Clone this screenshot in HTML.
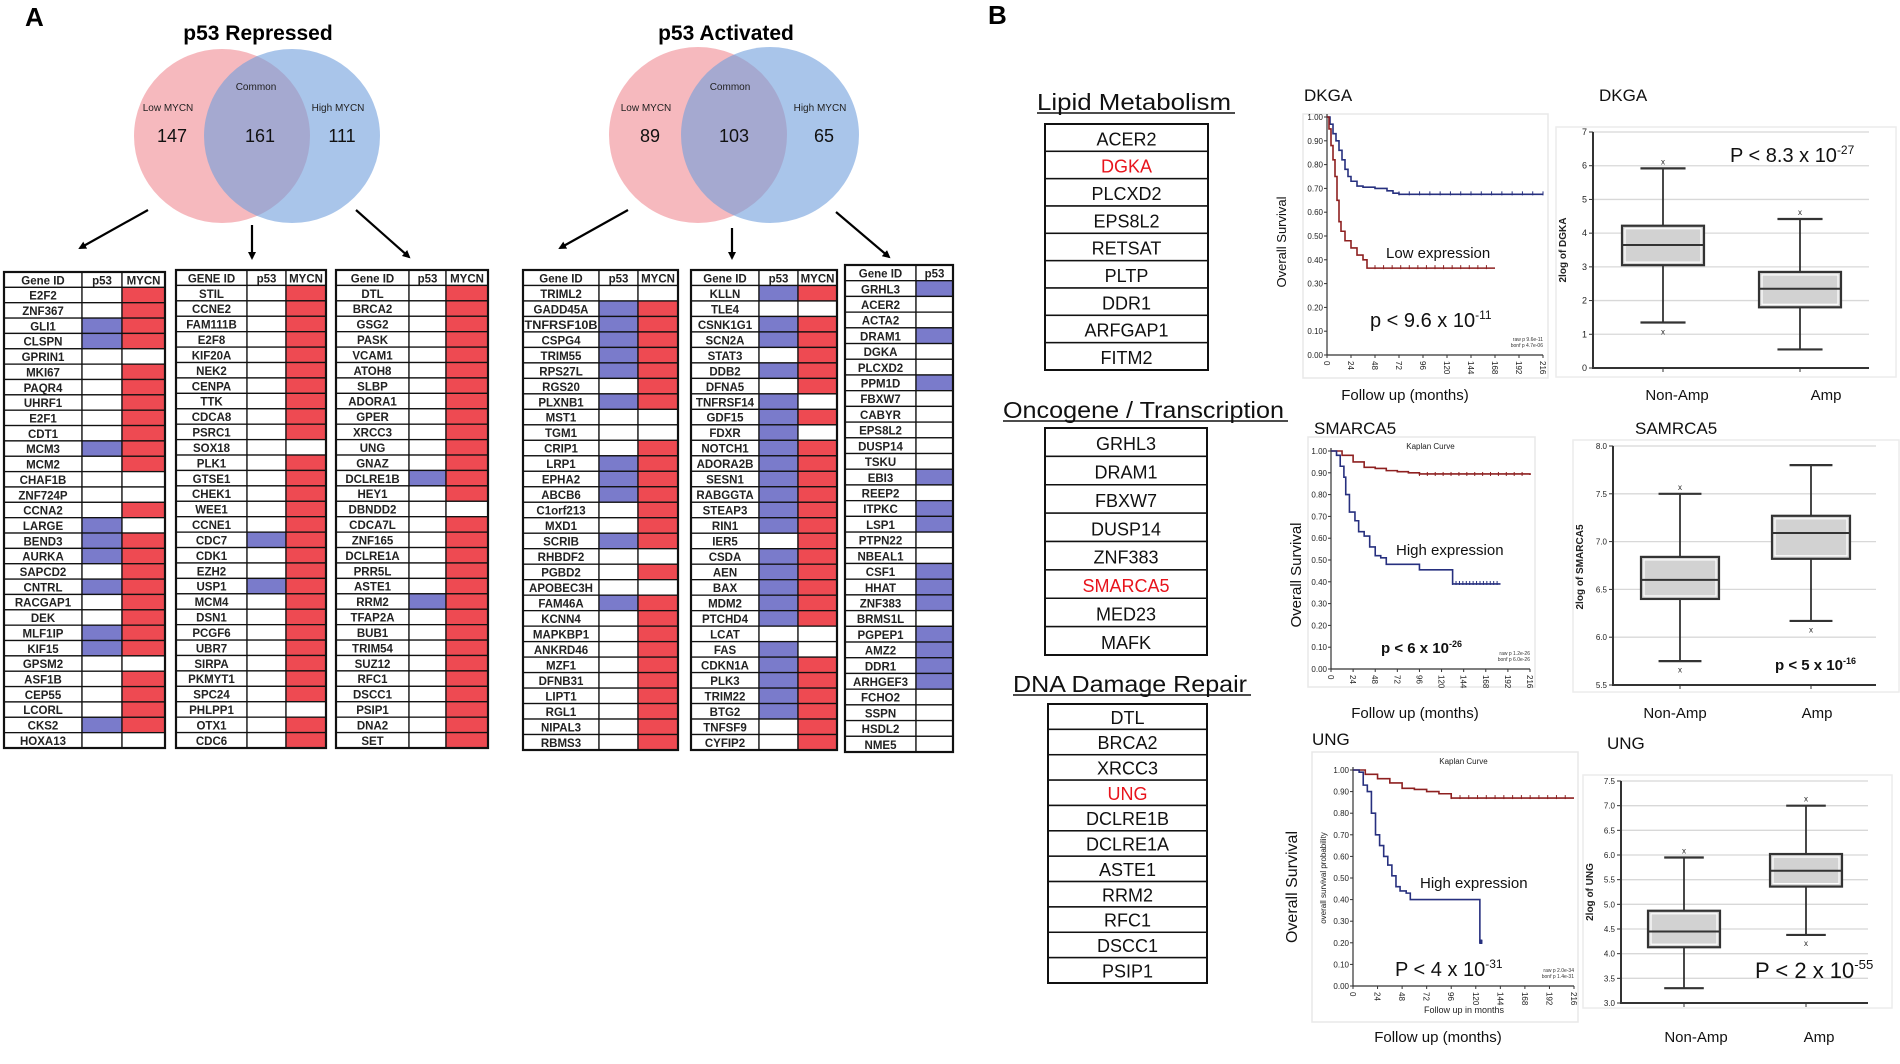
<!DOCTYPE html>
<html><head><meta charset="utf-8">
<style>
body{margin:0;background:#fff}
svg{display:block;font-family:"Liberation Sans",Arial,sans-serif}
</style></head>
<body>
<svg id="fig" width="1900" height="1064" viewBox="0 0 1900 1064"></svg>
<script>
// ---------- DATA ----------
const t1Genes=["E2F2","ZNF367","GLI1","CLSPN","GPRIN1","MKI67","PAQR4","UHRF1","E2F1","CDT1","MCM3","MCM2","CHAF1B","ZNF724P","CCNA2","LARGE","BEND3","AURKA","SAPCD2","CNTRL","RACGAP1","DEK","MLF1IP","KIF15","GPSM2","ASF1B","CEP55","LCORL","CKS2","HOXA13"];
const t1P53=[0,0,1,1,0,0,0,0,0,0,1,0,0,0,0,1,1,1,0,1,0,0,1,1,0,0,0,0,1,0];
const t1Mycn=[1,1,1,1,0,1,1,1,1,1,1,1,0,0,1,0,1,1,1,1,1,1,1,1,0,1,1,1,1,0];
const t2Genes=["STIL","CCNE2","FAM111B","E2F8","KIF20A","NEK2","CENPA","TTK","CDCA8","PSRC1","SOX18","PLK1","GTSE1","CHEK1","WEE1","CCNE1","CDC7","CDK1","EZH2","USP1","MCM4","DSN1","PCGF6","UBR7","SIRPA","PKMYT1","SPC24","PHLPP1","OTX1","CDC6"];
const t2P53=[0,0,0,0,0,0,0,0,0,0,0,0,0,0,0,0,1,0,0,1,0,0,0,0,0,0,0,0,0,0];
const t2Mycn=[1,1,1,1,1,1,1,1,1,1,0,1,1,1,1,1,1,1,1,1,1,1,1,1,1,1,1,0,1,1];
const t3Genes=["DTL","BRCA2","GSG2","PASK","VCAM1","ATOH8","SLBP","ADORA1","GPER","XRCC3","UNG","GNAZ","DCLRE1B","HEY1","DBNDD2","CDCA7L","ZNF165","DCLRE1A","PRR5L","ASTE1","RRM2","TFAP2A","BUB1","TRIM54","SUZ12","RFC1","DSCC1","PSIP1","DNA2","SET"];
const t3P53=[0,0,0,0,0,0,0,0,0,0,0,0,1,0,0,0,0,0,0,0,1,0,0,0,0,0,0,0,0,0];
const t3Mycn=[1,1,1,1,1,1,1,1,1,1,1,1,1,1,0,1,1,1,1,1,1,1,1,1,1,1,1,1,1,1];
const t4Genes=["TRIML2","GADD45A","TNFRSF10B","CSPG4","TRIM55","RPS27L","RGS20","PLXNB1","MST1","TGM1","CRIP1","LRP1","EPHA2","ABCB6","C1orf213","MXD1","SCRIB","RHBDF2","PGBD2","APOBEC3H","FAM46A","KCNN4","MAPKBP1","ANKRD46","MZF1","DFNB31","LIPT1","RGL1","NIPAL3","RBMS3"];
const t4P53=[0,1,1,1,1,1,0,1,0,0,0,1,1,1,0,0,1,0,0,0,1,0,0,0,0,0,0,0,0,0];
const t4Mycn=[0,1,1,1,1,1,1,1,0,0,1,1,1,1,1,1,1,0,1,0,1,1,1,1,1,1,1,1,1,1];
const t5Genes=["KLLN","TLE4","CSNK1G1","SCN2A","STAT3","DDB2","DFNA5","TNFRSF14","GDF15","FDXR","NOTCH1","ADORA2B","SESN1","RABGGTA","STEAP3","RIN1","IER5","CSDA","AEN","BAX","MDM2","PTCHD4","LCAT","FAS","CDKN1A","PLK3","TRIM22","BTG2","TNFSF9","CYFIP2"];
const t5P53=[1,0,1,1,0,1,0,1,1,1,1,1,1,1,1,1,0,1,1,1,1,1,0,1,1,1,1,1,0,0];
const t5Mycn=[1,0,1,1,1,1,1,0,1,0,1,1,1,1,1,1,1,1,1,1,1,1,0,0,1,1,1,1,1,1];
const t6Genes=["GRHL3","ACER2","ACTA2","DRAM1","DGKA","PLCXD2","PPM1D","FBXW7","CABYR","EPS8L2","DUSP14","TSKU","EBI3","REEP2","ITPKC","LSP1","PTPN22","NBEAL1","CSF1","HHAT","ZNF383","BRMS1L","PGPEP1","AMZ2","DDR1","ARHGEF3","FCHO2","SSPN","HSDL2","NME5"];
const t6P53=[1,0,0,1,0,0,1,0,0,0,0,0,1,0,1,1,0,0,1,1,1,0,1,1,1,1,0,0,0,0];

const lipidGenes=["ACER2","DGKA","PLCXD2","EPS8L2","RETSAT","PLTP","DDR1","ARFGAP1","FITM2"];
const oncoGenes=["GRHL3","DRAM1","FBXW7","DUSP14","ZNF383","SMARCA5","MED23","MAFK"];
const dnaGenes=["DTL","BRCA2","XRCC3","UNG","DCLRE1B","DCLRE1A","ASTE1","RRM2","RFC1","DSCC1","PSIP1"];
const highlighted=["DGKA","SMARCA5","UNG"];

const kmYTicks=[0,0.1,0.2,0.3,0.4,0.5,0.6,0.7,0.8,0.9,1.0];
const kmXTicks=[0,24,48,72,96,120,144,168,192,216];
const km1BlueT=[0,3,6,9,12,15,18,21,24,30,36,48,60,66,72,216];
const km1BlueS=[1,0.97,0.93,0.9,0.86,0.82,0.78,0.75,0.73,0.71,0.705,0.7,0.69,0.68,0.675,0.675];
const km1RedT=[0,2,4,6,8,10,12,14,18,24,30,36,40,48,168];
const km1RedS=[1,0.95,0.88,0.82,0.75,0.65,0.56,0.52,0.48,0.45,0.42,0.4,0.365,0.365,0.365];
const km2RedT=[0,12,24,36,48,60,72,84,96,216];
const km2RedS=[1,0.98,0.95,0.925,0.92,0.91,0.905,0.9,0.895,0.89];
const km2BlueT=[0,6,10,14,16,20,26,30,36,42,48,54,60,96,132,184];
const km2BlueS=[1,0.98,0.93,0.88,0.8,0.72,0.68,0.63,0.61,0.56,0.52,0.51,0.48,0.455,0.39,0.39];
const km3RedT=[0,12,24,36,48,60,72,84,96,216];
const km3RedS=[1,0.98,0.96,0.94,0.915,0.91,0.9,0.89,0.87,0.87];
const km3BlueT=[0,6,10,14,18,22,26,30,34,38,42,46,52,56,124,126];
const km3BlueS=[1,0.99,0.93,0.9,0.8,0.7,0.65,0.6,0.56,0.51,0.46,0.44,0.43,0.4,0.2,0.2];

const boxCats=["Non-Amp","Amp"];
const box1Lo=[1.35,0.55], box1Q1=[3.05,1.8], box1Med=[3.65,2.35], box1Q3=[4.22,2.85], box1Hi=[5.92,4.42];
const box1Out=[[6.1,1.05],[4.6]];
const box1Ticks=[0,1,2,3,4,5,6,7];
const box2Lo=[5.75,6.17], box2Q1=[6.4,6.82], box2Med=[6.6,7.09], box2Q3=[6.84,7.27], box2Hi=[7.5,7.8];
const box2Out=[[7.56,5.65],[6.07]];
const box2Ticks=[5.5,6.0,6.5,7.0,7.5,8.0];
const box3Lo=[3.3,4.38], box3Q1=[4.13,5.36], box3Med=[4.45,5.68], box3Q3=[4.87,6.02], box3Hi=[5.95,7.0];
const box3Out=[[6.07],[7.12,4.2]];
const box3Ticks=[3.0,3.5,4.0,4.5,5.0,5.5,6.0,6.5,7.0,7.5];

// ---------- HELPERS ----------
const NS='http://www.w3.org/2000/svg';
const svg=document.getElementById('fig');
function mk(tag,attrs,parent){const e=document.createElementNS(NS,tag);for(const k in attrs)e.setAttribute(k,attrs[k]);(parent||svg).appendChild(e);return e;}
function txt(x,y,s,attrs,parent){const e=mk('text',Object.assign({x:x,y:y},attrs||{}),parent);e.textContent=s;return e;}
function supTxt(x,y,base,sup,size,weight,parent){
  const e=mk('text',{x:x,y:y,'font-size':size,'font-weight':weight||'normal',fill:'#111'},parent);
  const a=mk('tspan',{},e);a.textContent=base;
  const b=mk('tspan',{dy:-size*0.4,'font-size':size*0.6},e);b.textContent=sup;
  return e;
}
const RED='#ee4a52', BLUE='#7a7bcb';

// ---------- PANEL LABELS ----------
let el;
el=txt(25,26,"A",{'font-size':26,'font-weight':'bold'});


el=txt(988,24,"B",{'font-size':26,'font-weight':'bold'});



// ---------- VENN ----------
function venn(name,title,tx,cx1,cx2,cy,r,nums,labX){
  const g=mk('g',{});
  
  
  let t=txt(tx,40,title,{'font-size':21,'font-weight':'bold','text-anchor':'middle'},g);
  
  
  let c=mk('ellipse',{cx:cx1,cy:cy,rx:r,ry:r-1,fill:'#f08a92','fill-opacity':0.6},g);
  
  
  c=mk('ellipse',{cx:cx2,cy:cy,rx:r,ry:r-1,fill:'#6f9fdc','fill-opacity':0.6},g);
  
  
  const lbl=["Low MYCN","Common","High MYCN"];
  const ly=[111,90,111];
  for(let i=0;i<3;i++){
    t=txt(labX[i],ly[i],lbl[i],{'font-size':10,'text-anchor':'middle',fill:'#222'},g);
    
    
    t=txt(labX[i]+4,142,nums[i],{'font-size':18,'text-anchor':'middle',fill:'#111'},g);
    
    
  }
}
venn('venn-p53-repressed','p53 Repressed',258,222,292,136,88,["147","161","111"],[168,256,338]);
venn('venn-p53-activated','p53 Activated',726,698,770,135,89,["89","103","65"],[646,730,820]);

const defs=mk('defs',{});
const mkr=mk('marker',{id:'ah',markerWidth:8,markerHeight:8,refX:6,refY:4,orient:'auto',markerUnits:'userSpaceOnUse'},defs);
mk('path',{d:'M0,0 L8,4 L0,8 Z',fill:'#000'},mkr);
const arrows=[[148,210,80,248],[252,225,252,258],[356,210,409,257],[628,210,560,248],[732,228,732,258],[836,212,889,257]];
arrows.forEach(a=>{
  const l=mk('line',{x1:a[0],y1:a[1],x2:a[2],y2:a[3],stroke:'#000','stroke-width':2.2,'marker-end':'url(#ah)'});
  
  
});

// ---------- GENE TABLES ----------
function geneTable(name,x,cols,y0,y1,heads,genes,p53,mycn){
  const g=mk('g',{});
  
  
  const n=genes.length+1, rh=(y1-y0)/n;
  const xs=[x].concat(cols);
  const right=xs[xs.length-1];
  for(let r=0;r<n;r++){
    const y=y0+r*rh;
    for(let c=0;c<xs.length-1;c++){
      let fill='#fff';
      if(r>0&&c===1&&p53[r-1])fill=BLUE;
      if(r>0&&c===2&&mycn&&mycn[r-1])fill=RED;
      const cell=mk('rect',{x:xs[c],y:y,width:xs[c+1]-xs[c],height:rh,fill:fill,stroke:'#111','stroke-width':1.3},g);
      
      
    }
    const s=r===0?heads[0]:genes[r-1];
    const w=xs[1]-xs[0];
    const attrs={'font-size':11.5,'font-weight':'bold','text-anchor':'middle',fill:'#222'};
    if(s.length>=9)attrs.textLength=w-3,attrs.lengthAdjust='spacingAndGlyphs';
    const t=txt((xs[0]+xs[1])/2,y+rh*0.8,s,attrs,g);
    
    
    if(r===0){
      for(let c=1;c<heads.length;c++){
        const h=txt((xs[c]+xs[c+1])/2,y+rh*0.8,heads[c],{'font-size':11.5,'font-weight':'bold','text-anchor':'middle',fill:'#222'},g);
        
        
      }
    }
  }
  const b=mk('rect',{x:x,y:y0,width:right-x,height:y1-y0,fill:'none',stroke:'#111','stroke-width':2.2},g);
  
  
}
geneTable('table-low-mycn-repressed',4,[82,122,165],272,748,["Gene ID","p53","MYCN"],t1Genes,t1P53,t1Mycn);
geneTable('table-common-repressed',176,[247,286,326],270,748,["GENE ID","p53","MYCN"],t2Genes,t2P53,t2Mycn);
geneTable('table-high-mycn-repressed',336,[409,446,488],270,748,["Gene ID","p53","MYCN"],t3Genes,t3P53,t3Mycn);
geneTable('table-low-mycn-activated',523,[599,638,678],270,750,["Gene ID","p53","MYCN"],t4Genes,t4P53,t4Mycn);
geneTable('table-common-activated',691,[759,798,837],270,750,["Gene ID","p53","MYCN"],t5Genes,t5P53,t5Mycn);
geneTable('table-high-mycn-activated',845,[916,953],265,752,["Gene ID","p53"],t6Genes,t6P53,null);

// ---------- CATEGORY LISTS ----------
function catList(name,heading,hx1,hx2,hy,x0,x1,y0,y1,genes){
  const g=mk('g',{});
  
  
  const h=txt(hx1,hy+8,heading,{'font-size':23,fill:'#111',textLength:hx2-hx1-4,lengthAdjust:'spacingAndGlyphs'},g);
  
  
  const u=mk('line',{x1:hx1,x2:hx2,y1:hy+11,y2:hy+11,stroke:'#111','stroke-width':1.5},g);
  
  
  const rh=(y1-y0)/genes.length;
  genes.forEach((s,i)=>{
    const r=mk('rect',{x:x0,y:y0+i*rh,width:x1-x0,height:rh,fill:'#fff',stroke:'#111','stroke-width':1.5},g);
    
    
    const t=txt((x0+x1)/2,y0+i*rh+rh*0.78,s,{'font-size':Math.min(18,rh*0.72),'text-anchor':'middle',fill:highlighted.includes(s)?'#e8141c':'#111'},g);
    
    
  });
  const b=mk('rect',{x:x0,y:y0,width:x1-x0,height:y1-y0,fill:'none',stroke:'#111','stroke-width':2},g);
  
  
}
catList('lipid-metabolism-list','Lipid Metabolism',1037,1235,102,1045,1208,124,370,lipidGenes);
catList('oncogene-transcription-list','Oncogene / Transcription',1003,1288,410,1045,1207,428,655,oncoGenes);
catList('dna-damage-repair-list','DNA Damage Repair',1013,1251,684,1048,1207,704,983,dnaGenes);

// ---------- KM PLOTS ----------
function stepPath(T,S,xs,ys){
  let d='M'+xs(T[0])+','+ys(S[0]);
  for(let i=1;i<T.length;i++){d+=' L'+xs(T[i])+','+ys(S[i-1])+' L'+xs(T[i])+','+ys(S[i]);}
  return d;
}
function km(name,c){
  const g=mk('g',{});
  
  
  const bg=mk('rect',{x:c.px0,y:c.py0,width:c.px1-c.px0,height:c.py1-c.py0,fill:'#fff',stroke:'#e8e8e8','stroke-width':1.5},g);
  
  
  const xs=t=>c.ax+t/216*(c.xr-c.ax);
  const ys=s=>c.y0-s*(c.y0-c.y1);
  const ax=mk('path',{d:`M${c.ax},${c.y1-3} L${c.ax},${c.y0} L${c.xr},${c.y0}`,fill:'none',stroke:'#333','stroke-width':1.2},g);
  
  
  kmYTicks.forEach(v=>{
    mk('line',{x1:c.ax-3,x2:c.ax,y1:ys(v),y2:ys(v),stroke:'#333'},g);
    const t=txt(c.ax-4,ys(v)+3,v.toFixed(2),{'font-size':8,'text-anchor':'end',fill:'#222'},g);
    
    
  });
  kmXTicks.forEach(v=>{
    mk('line',{x1:xs(v),x2:xs(v),y1:c.y0,y2:c.y0+3,stroke:'#333'},g);
    const t=txt(xs(v)-3,c.y0+6,String(v),{'font-size':8,fill:'#222',transform:`rotate(90 ${xs(v)-3} ${c.y0+6})`},g);
    
    
  });
  c.series.forEach(s=>{
    const p=mk('path',{d:stepPath(s.T,s.S,xs,ys),fill:'none',stroke:s.col,'stroke-width':1.6},g);
    
    
    // censor ticks along flat tail
    const last=s.T.length-1;
    const tA=s.T[last-1], tB=s.T[last], sv=s.S[last];
    for(let t=tA;t<=tB;t+=(tB-tA)/14){
      const m=mk('line',{x1:xs(t),x2:xs(t),y1:ys(sv)-3,y2:ys(sv)+1,stroke:s.col,'stroke-width':1},g);
      
      
    }
  });
  if(c.kaplan){const t=txt((c.ax+c.xr)/2,c.py0+12,"Kaplan Curve",{'font-size':8,'text-anchor':'middle',fill:'#222'},g);
    
    }
  const tt=txt(c.tx,c.ty,c.title,{'font-size':17,fill:'#111'},g);
  
  
  const yl=txt(c.ylx,c.yly,"Overall Survival",{'font-size':c.ylfs,'text-anchor':'middle',fill:'#111',transform:`rotate(-90 ${c.ylx} ${c.yly})`},g);
  
  
  const xl=txt(c.xlx,c.xly,"Follow up (months)",{'font-size':15,'text-anchor':'middle',fill:'#111'},g);
  
  
  const ex=txt(c.ex,c.ey,c.etext,{'font-size':15,fill:'#111'},g);
  
  
  const pv=supTxt(c.pvx,c.pvy,c.pv[0],c.pv[1],c.pvfs,c.pvw,g);
  
  
  const r1=txt(c.xr,c.y0-14,"raw p "+c.raw[0],{'font-size':5,'text-anchor':'end',fill:'#333'},g);
  
  
  const r2=txt(c.xr,c.y0-8,"bonf p "+c.raw[1],{'font-size':5,'text-anchor':'end',fill:'#333'},g);
  
  
  return g;
}
km('km-dgka',{px0:1303,px1:1548,py0:114,py1:378,ax:1327,xr:1543,y1:117,y0:355,title:"DKGA",tx:1304,ty:101,
  ylx:1286,yly:242,ylfs:13,xlx:1405,xly:400,ex:1386,ey:258,etext:"Low expression",pv:["p < 9.6 x 10","-11"],pvx:1370,pvy:327,pvfs:20,
  raw:["9.6e-11","4.7e-06"],series:[{name:'km-high-expression-line',T:km1BlueT,S:km1BlueS,col:'#27307f'},{name:'km-low-expression-line',T:km1RedT,S:km1RedS,col:'#8e2020'}]});
km('km-smarca5',{px0:1308,px1:1535,py0:437,py1:687,ax:1331,xr:1530,y1:451,y0:669,title:"SMARCA5",tx:1314,ty:434,kaplan:1,
  ylx:1301,yly:575,ylfs:15,xlx:1415,xly:718,ex:1396,ey:555,etext:"High expression",pv:["p < 6 x 10","-26"],pvx:1381,pvy:653,pvfs:15,pvw:'bold',
  raw:["1.2e-26","6.0e-26"],series:[{name:'km-low-expression-line',T:km2RedT,S:km2RedS,col:'#8e2020'},{name:'km-high-expression-line',T:km2BlueT,S:km2BlueS,col:'#27307f'}]});
const k3=km('km-ung',{px0:1312,px1:1578,py0:752,py1:1022,ax:1353,xr:1574,y1:770,y0:986,title:"UNG",tx:1312,ty:745,kaplan:1,
  ylx:1297,yly:887,ylfs:16,xlx:1438,xly:1042,ex:1420,ey:888,etext:"High expression",pv:["P < 4 x 10","-31"],pvx:1395,pvy:976,pvfs:20,
  raw:["2.0e-34","1.4e-31"],series:[{name:'km-low-expression-line',T:km3RedT,S:km3RedS,col:'#8e2020'},{name:'km-high-expression-line',T:km3BlueT,S:km3BlueS,col:'#27307f'}]});
el=txt(1326,878,"overall survival probability",{'font-size':8,'text-anchor':'middle',fill:'#222',transform:'rotate(-90 1326 878)'},k3);


el=txt(1464,1013,"Follow up in months",{'font-size':9,'text-anchor':'middle',fill:'#222'},k3);



// ---------- BOX PLOTS ----------
function box(name,c,lo,q1,med,q3,hi,outs,ticks){
  const g=mk('g',{});
  
  
  const bg=mk('rect',{x:c.px0,y:c.py0,width:c.px1-c.px0,height:c.py1-c.py0,fill:'#fff',stroke:'#ececec','stroke-width':1.5},g);
  
  
  const vmin=ticks[0], vmax=ticks[ticks.length-1];
  const ys=v=>c.yb-(v-vmin)/(vmax-vmin)*(c.yb-c.yt);
  ticks.forEach(v=>{
    const gl=mk('line',{x1:c.ax,x2:c.xr,y1:ys(v),y2:ys(v),stroke:'#d8d8d8','stroke-width':1.3},g);
    
    
    mk('line',{x1:c.ax-4,x2:c.ax,y1:ys(v),y2:ys(v),stroke:'#333'},g);
    const t=txt(c.ax-6,ys(v)+3,c.dec?v.toFixed(1):String(v),{'font-size':c.dec?8:9,'text-anchor':'end',fill:'#222'},g);
    
    
  });
  const axl=mk('path',{d:`M${c.ax},${c.yt} L${c.ax},${c.yb} L${c.xr},${c.yb}`,fill:'none',stroke:'#333','stroke-width':2},g);
  
  
  boxCats.forEach((cat,i)=>{
    const cx=c.cx[i], w=c.bw, cw=w*0.55;
    mk('line',{x1:cx,x2:cx,y1:c.yb,y2:c.yb+4,stroke:'#333'},g);
    const wh=mk('line',{x1:cx,x2:cx,y1:ys(lo[i]),y2:ys(hi[i]),stroke:'#333','stroke-width':1.8},g);
    
    
    [lo[i],hi[i]].forEach(v=>{
      const cp=mk('line',{x1:cx-cw/2,x2:cx+cw/2,y1:ys(v),y2:ys(v),stroke:'#333','stroke-width':2.2},g);
      
      
    });
    const b=mk('rect',{x:cx-w/2,y:ys(q3[i]),width:w,height:ys(q1[i])-ys(q3[i]),fill:'#d2d2d2',stroke:'#333','stroke-width':2.2},g);
    
    
    mk('rect',{x:cx-w/2+3,y:ys(q3[i])+3,width:w-6,height:ys(q1[i])-ys(q3[i])-6,fill:'none',stroke:'#fff','stroke-width':1.2},g);
    const m=mk('line',{x1:cx-w/2,x2:cx+w/2,y1:ys(med[i]),y2:ys(med[i]),stroke:'#333','stroke-width':2},g);
    
    
    outs[i].forEach(v=>{
      const o=txt(cx,ys(v)+2,"x",{'font-size':8,'text-anchor':'middle',fill:'#222'},g);
      
      
    });
    const l=txt(c.lx[i],c.ly,cat,{'font-size':15,'text-anchor':'middle',fill:'#111'},g);
    
    
  });
  const tt=txt(c.tx,c.ty,c.title,{'font-size':17,fill:'#111'},g);
  
  
  const yl=txt(c.ylx,c.yly,c.ylab,{'font-size':10,'font-weight':'bold','text-anchor':'middle',fill:'#222',transform:`rotate(-90 ${c.ylx} ${c.yly})`},g);
  
  
  const pv=supTxt(c.pvx,c.pvy,c.pv[0],c.pv[1],c.pvfs,c.pvw,g);
  
  
}
box('box-dgka',{px0:1556,px1:1896,py0:127,py1:377,ax:1593,xr:1869,yt:132,yb:368,cx:[1663,1800],bw:82,lx:[1677,1826],ly:400,
  title:"DKGA",tx:1599,ty:101,ylab:"2log of DGKA",ylx:1566,yly:250,pv:["P < 8.3 x 10","-27"],pvx:1730,pvy:162,pvfs:20},
  box1Lo,box1Q1,box1Med,box1Q3,box1Hi,box1Out,box1Ticks);
box('box-smarca5',{px0:1573,px1:1899,py0:440,py1:692,ax:1613,xr:1876,yt:446,yb:685,cx:[1680,1811],bw:78,lx:[1675,1817],ly:718,dec:1,
  title:"SAMRCA5",tx:1635,ty:434,ylab:"2log of SMARCA5",ylx:1583,yly:567,pv:["p < 5 x 10","-16"],pvx:1775,pvy:670,pvfs:15,pvw:'bold'},
  box2Lo,box2Q1,box2Med,box2Q3,box2Hi,box2Out,box2Ticks);
box('box-ung',{px0:1583,px1:1892,py0:775,py1:1008,ax:1621,xr:1868,yt:781,yb:1003,cx:[1684,1806],bw:72,lx:[1696,1819],ly:1042,dec:1,
  title:"UNG",tx:1607,ty:749,ylab:"2log of UNG",ylx:1593,yly:892,pv:["P < 2 x 10","-55"],pvx:1755,pvy:978,pvfs:22},
  box3Lo,box3Q1,box3Med,box3Q3,box3Hi,box3Out,box3Ticks);
</script>
</body></html>
